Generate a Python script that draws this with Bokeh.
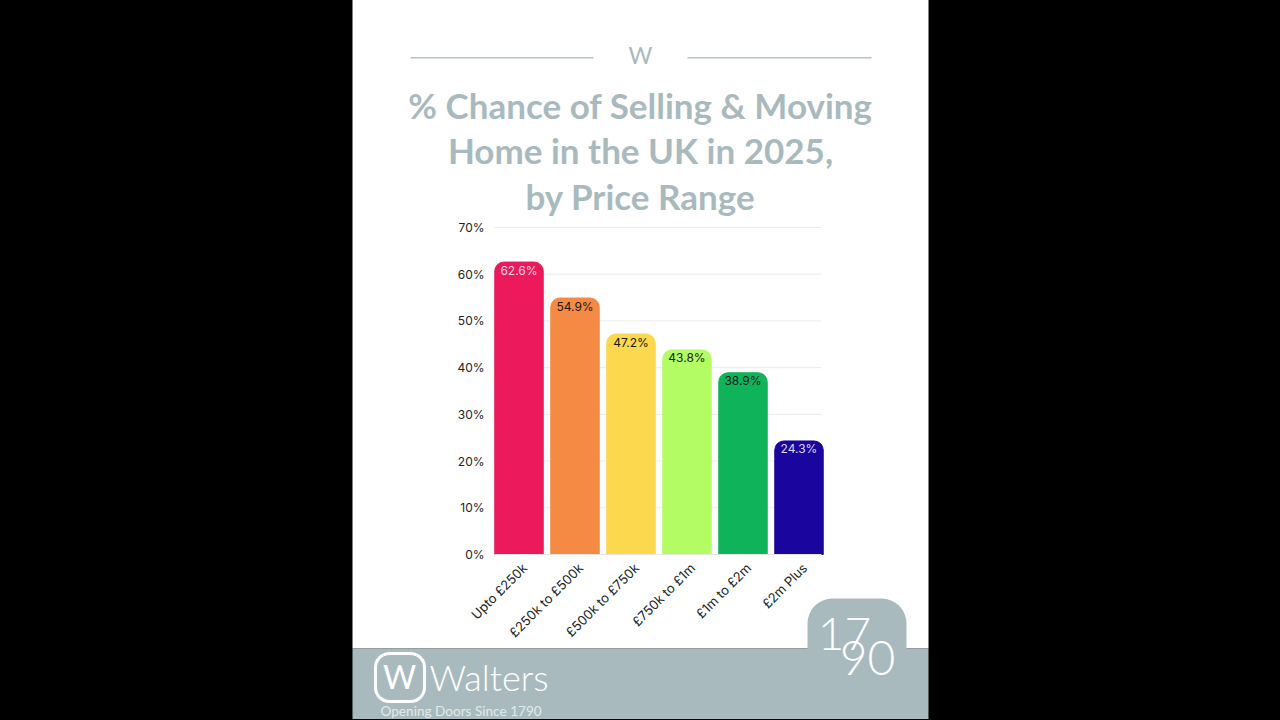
from bokeh.core.properties import value
from bokeh.embed import file_html
from bokeh.events import DocumentReady
from bokeh.io import curdoc
from bokeh.models import ColumnDataSource, CustomJS, CustomJSTickFormatter, FixedTicker, PrintfTickFormatter, Range1d
from bokeh.plotting import figure
from bokeh.resources import INLINE
import math

categories = ["Upto £250k", "£250k to £500k", "£500k to £750k", "£750k to £1m", "£1m to £2m", "£2m Plus"]
chance = [62.6, 54.9, 47.2, 43.8, 38.9, 24.3]
bar_colors = ["#ec1a5c", "#f58a45", "#fbd84e", "#b4fc64", "#0fb35a", "#1a069f"]
label_colors = ["#f8d6e0", "#1a1a1a", "#1a1a1a", "#1a1a1a", "#1a1a1a", "#dcd8f0"]
y_ticks = [0, 10, 20, 30, 40, 50, 60, 70]
title_lines = ["% Chance of Selling & Moving", "Home in the UK in 2025,", "by Price Range"]

SLATE = "#a9babe"
FONT = "Inter"

# the frame fills the whole window, so the ranges are set from where the chart sits in it
WIDTH, HEIGHT = 1281, 721
SHIFT = 1
x0, step = 518.5, 56
y0, per_unit = 554, 327 / 70
index = list(range(len(categories)))
left_edge, right_edge = -0.4375, 5.4

source = ColumnDataSource(dict(
    x=index,
    val=chance,
    txt=["%.1f%%" % v for v in chance],
    bar=bar_colors,
    lab=label_colors,
))

p = figure(width=WIDTH, height=HEIGHT, min_border=0,
           x_range=Range1d((-SHIFT - x0) / step, (WIDTH - SHIFT - x0) / step),
           y_range=Range1d((y0 - HEIGHT + SHIFT) / per_unit, (y0 + SHIFT) / per_unit),
           output_backend="svg", toolbar_location=None, border_fill_color="#000000",
           background_fill_color="#000000", outline_line_color=None)
p.extra_x_ranges["px"] = Range1d(-SHIFT, WIDTH - SHIFT)
p.extra_y_ranges["px"] = Range1d(HEIGHT - SHIFT, -SHIFT)


def box(left, right, top, bottom, color, radius=0, line=None, width=3):
    p.quad(left=[left], right=[right], top=[top], bottom=[bottom], x_range_name="px", y_range_name="px",
           fill_color=color, fill_alpha=1 if color else 0, line_color=line, line_width=width, border_radius=radius)


def label(x, y, text, size, color=SLATE, align="center", font=FONT, style="normal"):
    p.text(x=[x], y=[y], text=[text], x_range_name="px", y_range_name="px",
           text_font=value(font), text_font_size=size, text_font_style=style, text_color=color,
           text_align=align, text_baseline="middle")


# page furniture
box(352, 928, -2, 648, "#ffffff")
box(807, 906, 598, 650, SLATE, radius=(25, 25, 0, 0))
box(352, 928, 648, HEIGHT + 2, SLATE)
box(410, 593, 56.5, 58, "#b5c4c6")
box(687, 871, 56.5, 58, "#b5c4c6")
box(375, 424, 653, 701, None, radius=14, line="#ffffff")

label(640, 54, "W", "23px", font="Lato")
for i, line in enumerate(title_lines):
    label(640, [104, 149, 195][i], line, "35px", style="bold", font="Lato")

label(399, 676, "W", "32px", color="#ffffff", font="Lato")
label(429, 676, "Walters", "36px", color="#ffffff", align="left", font="Lato Light")
label(380, 710, "Opening Doors Since 1790", "13.6px", color="#e2e9ea", align="left", font="Lato")
label(844, 633, "17", "46px", color="#ffffff", font="Lato Light")
label(867, 657, "90", "48px", color="#ffffff", font="Lato Light")

# gridlines stop at the ends of the bars
p.grid.visible = False
p.segment(x0=[left_edge] * len(y_ticks), x1=[right_edge] * len(y_ticks), y0=y_ticks, y1=y_ticks,
          line_color="#ebebeb", line_width=1)

p.vbar(x="x", top="val", width=0.865, color="bar", source=source, border_radius=(9, 9, 0, 0))
p.text(x="x", y="val", text="txt", text_color="lab", source=source, text_align="center",
       text_baseline="middle", y_offset=8, text_font=value(FONT), text_font_size="12px")

p.yaxis.fixed_location = left_edge
p.yaxis.ticker = FixedTicker(ticks=y_ticks)
p.yaxis.formatter = PrintfTickFormatter(format="%d%%")
p.yaxis.axis_line_color = None
p.yaxis.major_tick_line_color = None
p.yaxis.minor_tick_line_color = None
p.yaxis.major_label_standoff = 4
p.yaxis.major_label_text_font = FONT
p.yaxis.major_label_text_font_size = "12px"
p.yaxis.major_label_text_color = "#222222"

p.xaxis.fixed_location = 0
p.xaxis.bounds = (left_edge, right_edge)
p.xaxis.ticker = FixedTicker(ticks=[i + 0.1 for i in index])
p.xaxis.formatter = CustomJSTickFormatter(args=dict(labels=categories), code="return labels[Math.round(tick)]")
p.xaxis.axis_line_color = "#e4e4e4"
p.xaxis.major_tick_line_color = None
p.xaxis.minor_tick_line_color = None
p.xaxis.major_label_orientation = math.pi / 4
p.xaxis.major_label_standoff = 5
p.xaxis.major_label_text_font = FONT
p.xaxis.major_label_text_font_size = "13px"
p.xaxis.major_label_text_color = "#222222"

doc = curdoc()
doc.add_root(p)
doc.js_on_event(DocumentReady, CustomJS(code="document.body.style.margin='-1px 0 0 -1px';document.body.style.overflow='hidden';document.body.style.background='#000';document.documentElement.style.background='#000';"))

open("out.html", "w").write(file_html(p, INLINE))
